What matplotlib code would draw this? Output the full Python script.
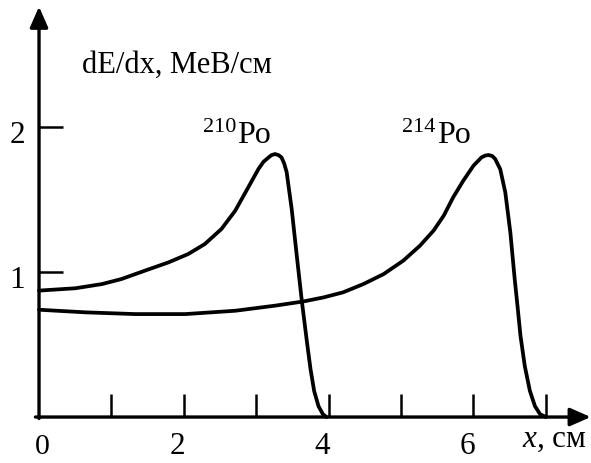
import matplotlib
matplotlib.use("Agg")
import matplotlib.pyplot as plt
from matplotlib.transforms import ScaledTranslation

plt.rcParams['font.family'] = ['Liberation Serif', 'DejaVu Serif']
plt.rcParams['mathtext.fontset'] = 'custom'
plt.rcParams['mathtext.rm'] = 'Liberation Serif'
plt.rcParams['mathtext.it'] = 'Liberation Serif:italic'

# Bragg curves (x in cm, dE/dx in MeV/cm)
po210_x = [0.0, 0.50, 0.87, 1.14, 1.46, 1.79, 2.06, 2.29, 2.52, 2.71, 2.89, 3.03, 3.10,
           3.17, 3.21, 3.26, 3.31, 3.35, 3.385, 3.42, 3.49, 3.56, 3.63, 3.70, 3.75, 3.80,
           3.86, 3.92, 3.97]
po210_y = [0.872, 0.888, 0.917, 0.952, 1.009, 1.067, 1.124, 1.193, 1.297, 1.423, 1.584, 1.71, 1.76,
           1.79, 1.806, 1.814, 1.806, 1.79, 1.75, 1.69, 1.434, 1.113, 0.80, 0.52, 0.33, 0.18,
           0.075, 0.02, 0.0]

po214_x = [0.0, 0.64, 1.33, 2.02, 2.71, 3.26, 3.65, 3.93, 4.20, 4.48, 4.76, 5.03, 5.26, 5.45,
           5.59, 5.72, 5.86, 6.00, 6.11, 6.16, 6.21, 6.26, 6.30, 6.37, 6.44, 6.51, 6.57, 6.61,
           6.65, 6.71, 6.78, 6.85, 6.92, 7.0]
po214_y = [0.74, 0.722, 0.71, 0.71, 0.733, 0.768, 0.797, 0.825, 0.86, 0.917, 0.986, 1.078, 1.181, 1.286,
           1.389, 1.515, 1.63, 1.733, 1.79, 1.803, 1.807, 1.80, 1.78, 1.71, 1.55, 1.273, 0.952, 0.76,
           0.56, 0.35, 0.18, 0.075, 0.02, 0.0]

x_ticks = [1, 2, 3, 4, 5, 6, 7]
x_ticklabels = ['', '2', '', '4', '', '6', '']
y_ticks = [1, 2]
y_ticklabels = ['1', '2']

fig = plt.figure(figsize=(5.91, 4.64), dpi=100)
ax = fig.add_axes([0, 0, 1, 1])
ax.set_xlim(-0.539, 7.624)
ax.set_ylim(-0.317, 2.883)

for s in ax.spines.values():
    s.set_visible(False)
ax.spines['left'].set_position(('data', 0))
ax.spines['bottom'].set_position(('data', 0))

lw = 2.7
ax.plot(po210_x, po210_y, color='black', lw=lw, solid_capstyle='round', solid_joinstyle='round')
ax.plot(po214_x, po214_y, color='black', lw=lw, solid_capstyle='round', solid_joinstyle='round')

# axes with arrows
arrow = dict(arrowstyle='-|>,head_length=1.25,head_width=0.55', lw=2.4, color='black',
             mutation_scale=10, shrinkA=0, shrinkB=0)
ax.annotate('', xy=(7.62, 0), xytext=(-0.05, 0), arrowprops=arrow)
ax.annotate('', xy=(0, 2.83), xytext=(0, -0.01), arrowprops=arrow)

ax.set_xticks(x_ticks, x_ticklabels)
ax.set_yticks(y_ticks, y_ticklabels)
ax.tick_params(axis='x', direction='in', length=16.5, width=1.8, pad=10, labelsize=22.5)
ax.tick_params(axis='y', direction='in', length=17.3, width=1.8, pad=10, labelsize=22.5)
for lab in ax.get_xticklabels():
    lab.set_transform(lab.get_transform() + ScaledTranslation(-0.06, 0, fig.dpi_scale_trans))
for lab in ax.get_yticklabels():
    lab.set_transform(lab.get_transform() + ScaledTranslation(0, -0.04, fig.dpi_scale_trans))

ax.text(0.04, -0.25, '0', fontsize=21.5, ha='center', va='baseline')
ax.text(6.67, -0.2, '$x$, см', fontsize=22.5, ha='left', va='baseline')
ax.text(0.594, 2.379, 'dE/dx, МеВ/см', fontsize=22, ha='left', va='baseline')

ax.text(2.72, 1.97, '210', fontsize=16, ha='right', va='baseline')
ax.text(2.74, 1.897, 'Po', fontsize=23, ha='left', va='baseline')
ax.text(5.47, 1.97, '214', fontsize=16, ha='right', va='baseline')
ax.text(5.50, 1.897, 'Po', fontsize=23, ha='left', va='baseline')

fig.savefig('out.png', dpi=100)
